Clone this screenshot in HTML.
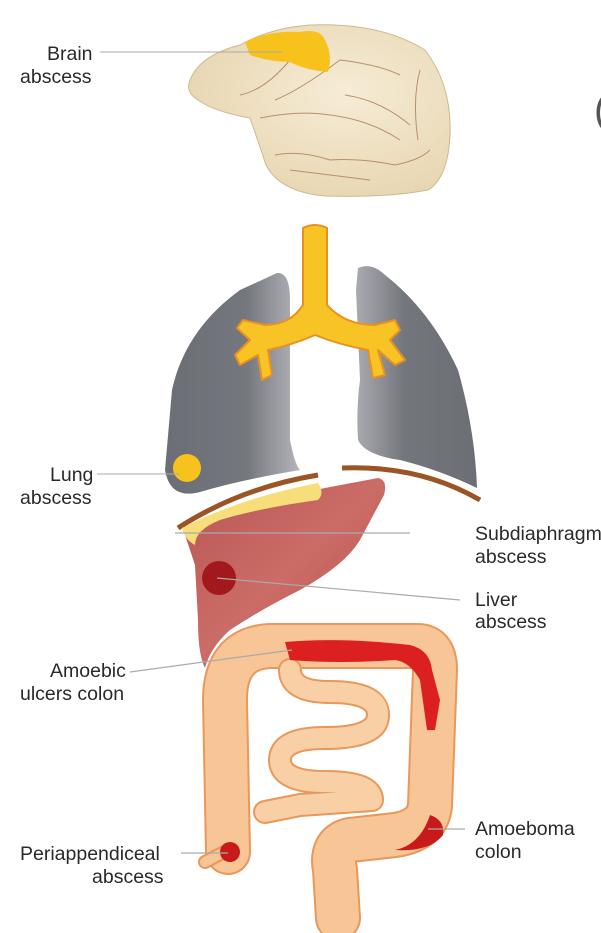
<!DOCTYPE html>
<html><head><meta charset="utf-8"><style>
html,body{margin:0;padding:0;background:#fff;}
svg{display:block}
text{font-family:"Liberation Sans",sans-serif;font-size:19.5px;fill:#2a2a2a}
</style></head><body>
<svg width="601" height="933" viewBox="0 0 601 933" xmlns="http://www.w3.org/2000/svg">
<defs>
<linearGradient id="lungL" x1="0" x2="1"><stop offset="0" stop-color="#6c6e75"/><stop offset="0.6" stop-color="#75777e"/><stop offset="1" stop-color="#b4b6bb"/></linearGradient>
<linearGradient id="lungR" x1="0" x2="1"><stop offset="0" stop-color="#a9abb0"/><stop offset="0.4" stop-color="#74767d"/><stop offset="1" stop-color="#6c6e75"/></linearGradient>
<radialGradient id="brain" cx="0.6" cy="0.4" r="0.7"><stop offset="0" stop-color="#f6ecd6"/><stop offset="1" stop-color="#e6d4ae"/></radialGradient>
<linearGradient id="liver" x1="0" y1="0" x2="1" y2="1"><stop offset="0" stop-color="#b75552"/><stop offset="0.5" stop-color="#cc6c67"/><stop offset="1" stop-color="#b5504d"/></linearGradient>
</defs>

<path d="M190,80 Q200,55 240,45 Q270,28 310,25 Q380,22 425,50 Q452,85 450,135 Q448,178 428,190 Q385,198 325,196 Q280,192 266,165 Q256,135 250,118 Q215,112 198,100 Q185,92 190,80 Z" fill="url(#brain)" stroke="#cdb98f" stroke-width="1"/>
<g fill="none" stroke="#b98f6c" stroke-width="1">
<path d="M240,95 Q265,90 290,60"/><path d="M275,100 Q300,90 340,60 Q380,65 400,75"/>
<path d="M260,118 Q300,110 330,115 Q370,120 400,140"/><path d="M345,95 Q380,100 410,125"/>
<path d="M275,155 Q300,150 330,160 Q360,158 395,165 Q420,160 430,150"/>
<path d="M420,70 Q412,100 418,140"/><path d="M290,170 Q330,175 370,180"/>
</g>
<path d="M245,42 Q270,30 300,32 Q320,28 325,40 Q333,55 328,72 Q305,70 290,62 Q270,62 250,55 Z" fill="#f8c21c"/>
<line x1="100" y1="52" x2="282" y2="52" stroke="#aaa" stroke-width="1"/>
<text x="47" y="60">Brain</text><text x="20" y="83">abscess</text>

<path d="M277,273 Q290,272 290,300 L290,440 Q295,465 300,470 Q240,480 200,492 Q170,500 165,470 L172,390 Q185,330 240,290 Z" fill="url(#lungL)"/>
<path d="M358,268 Q372,262 385,275 Q430,310 458,370 Q475,430 477,488 Q440,470 400,460 Q365,455 358,440 Q356,410 360,380 L356,290 Z" fill="url(#lungR)"/>
<path d="M303,228 Q315,222 327,228 L327,305 Q345,325 375,325 L395,320 L400,330 L390,340 L405,360 L395,365 L378,350 L385,375 L373,378 L368,350 Q340,345 315,335 Q292,345 268,350 L272,375 L262,380 L258,355 L240,365 L235,355 L250,340 L237,328 L243,320 L265,325 Q290,325 303,305 Z" fill="#f8c325" stroke="#e89020" stroke-width="2" stroke-linejoin="round"/>
<circle cx="187" cy="468" r="14" fill="#f8c21c"/>
<line x1="97" y1="474" x2="180" y2="474" stroke="#aaa" stroke-width="1"/>
<text x="50" y="481">Lung</text><text x="20" y="504">abscess</text>

<path d="M178,528 Q240,488 318,475" fill="none" stroke="#9a5425" stroke-width="5"/>
<path d="M342,468 Q420,465 480,500" fill="none" stroke="#9a5425" stroke-width="5"/>

<path d="M185,535 Q240,505 330,487 L378,478 Q388,480 384,495 L360,540 Q345,565 300,590 Q260,610 230,630 Q210,648 205,668 Q198,655 198,620 L195,565 Z" fill="url(#liver)"/>
<path d="M182,528 Q240,498 318,483 Q325,493 318,500 Q260,508 220,520 Q195,530 195,545 Q185,540 182,528 Z" fill="#f7de7a"/>
<circle cx="219" cy="578" r="17" fill="#a3181c"/>
<line x1="175" y1="533" x2="410" y2="533" stroke="#aaa" stroke-width="1.2"/>
<line x1="217" y1="578" x2="460" y2="600" stroke="#aaa" stroke-width="1.2"/>
<text x="475" y="540">Subdiaphragmatic</text><text x="475" y="563">abscess</text>
<text x="475" y="606">Liver</text><text x="475" y="628">abscess</text>

<g fill="none" stroke-linejoin="round" stroke-linecap="round">
<path d="M228,852 L225,700 Q225,648 270,646 L418,646 Q435,646 435,670 L430,805 Q428,830 395,835 L350,840 Q330,845 335,870 L338,918" stroke="#e8985a" stroke-width="46"/>
<path d="M228,852 L225,700 Q225,648 270,646 L418,646 Q435,646 435,670 L430,805 Q428,830 395,835 L350,840 Q330,845 335,870 L338,918" stroke="#f7c596" stroke-width="42"/>
<path d="M228,850 L205,862" stroke="#e8985a" stroke-width="14"/>
<path d="M228,850 L205,862" stroke="#f7c596" stroke-width="10"/>
<path d="M290,670 Q290,692 330,692 Q378,692 378,715 Q378,738 325,738 Q280,738 280,760 Q280,782 325,782 Q372,782 372,800 L300,805 L265,812" stroke="#e8985a" stroke-width="24"/>
<path d="M290,670 Q290,692 330,692 Q378,692 378,715 Q378,738 325,738 Q280,738 280,760 Q280,782 325,782 Q372,782 372,800 L300,805 L265,812" stroke="#f9cfa6" stroke-width="20"/>
</g>
<path d="M285,642 Q340,637 410,645 Q430,650 432,670 L440,700 L435,730 L427,730 L420,680 Q410,662 395,660 Q340,664 290,660 Z" fill="#dc1f1f"/>
<path d="M395,850 Q420,845 430,815 Q445,820 443,835 Q430,852 395,850 Z" fill="#c81a1a"/>
<circle cx="230" cy="852" r="10" fill="#c81a1a"/>
<line x1="130" y1="672" x2="292" y2="650" stroke="#aaa" stroke-width="1.2"/>
<text x="50" y="677">Amoebic</text><text x="20" y="700">ulcers colon</text>
<line x1="181" y1="853" x2="228" y2="853" stroke="#aaa" stroke-width="1.2"/>
<text x="20" y="860">Periappendiceal</text><text x="92" y="883">abscess</text>
<line x1="428" y1="829" x2="465" y2="829" stroke="#aaa" stroke-width="1.2"/>
<text x="475" y="835">Amoeboma</text><text x="475" y="858">colon</text>

<text x="594" y="123" style="font-size:40px;fill:#555">(</text>
</svg>
</body></html>
